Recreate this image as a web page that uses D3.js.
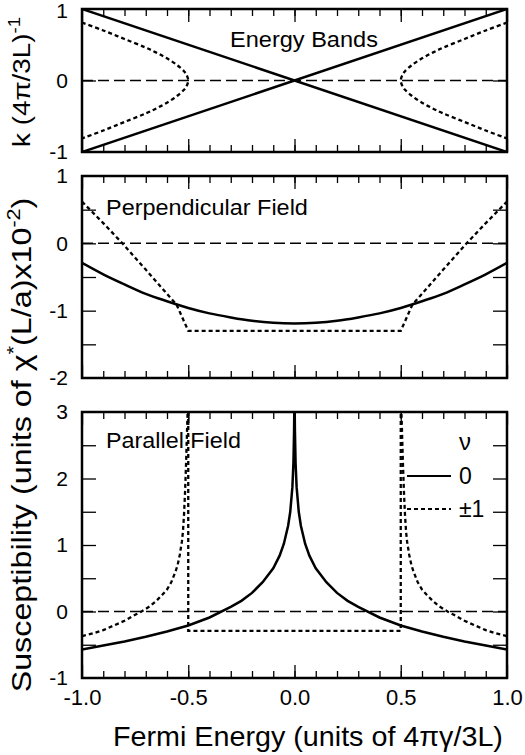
<!DOCTYPE html>
<meta charset="utf-8">
<title>Susceptibility vs Fermi energy</title>
<style>

body {
  margin: 0;
  background: #fff;
}

svg {
  font-family: "Liberation Sans", Arial, sans-serif;
}

.frame {
  fill: none;
  stroke: #000;
  stroke-width: 2.5px;
}

.tick line {
  stroke: #000;
  stroke-width: 1.3px;
}

.domain {
  display: none;
}

.zero {
  fill: none;
  stroke: #000;
  stroke-width: 1.5px;
  stroke-dasharray: 11, 5;
}

.solid {
  fill: none;
  stroke: #000;
  stroke-width: 2.5px;
}

.dot {
  fill: none;
  stroke: #000;
  stroke-width: 2.3px;
  stroke-dasharray: 4, 3;
}

</style>
<body>
<svg></svg>
<script src="https://d3js.org/d3.v7.min.js"></script>
<script>

// x axis (Fermi energy) tick labels, shared by all panels
var energyTicks = [-1.0, -0.5, 0.0, 0.5, 1.0];

// top panel: energy bands, k vs E
var bandsTicks = [-1, 0, 1];
var bandsSolidDown = [[-1, 1], [1, -1]];
var bandsSolidUp = [[-1, -1], [1, 1]];
var bandsDotLeft = [[-1, 0.81], [-0.9, 0.70], [-0.8, 0.58], [-0.7, 0.46], [-0.65, 0.39], [-0.6, 0.31],
                    [-0.55, 0.21], [-0.52, 0.13], [-0.51, 0.09], [-0.5, 0],
                    [-0.51, -0.09], [-0.52, -0.13], [-0.55, -0.21], [-0.6, -0.31], [-0.65, -0.39],
                    [-0.7, -0.46], [-0.8, -0.58], [-0.9, -0.70], [-1, -0.81]];
var bandsDotRight = [[1, 0.81], [0.9, 0.70], [0.8, 0.58], [0.7, 0.46], [0.65, 0.39], [0.6, 0.31],
                     [0.55, 0.21], [0.52, 0.13], [0.51, 0.09], [0.5, 0],
                     [0.51, -0.09], [0.52, -0.13], [0.55, -0.21], [0.6, -0.31], [0.65, -0.39],
                     [0.7, -0.46], [0.8, -0.58], [0.9, -0.70], [1, -0.81]];

// middle panel: perpendicular field
var perpTicks = [-2, -1, 0, 1];
var perpSolid = [[-1, -0.29], [-0.9, -0.46], [-0.8, -0.61], [-0.7, -0.75], [-0.6, -0.86], [-0.5, -0.96],
                 [-0.4, -1.04], [-0.3, -1.10], [-0.2, -1.15], [-0.1, -1.18], [0, -1.19],
                 [0.1, -1.18], [0.2, -1.15], [0.3, -1.10], [0.4, -1.04], [0.5, -0.96],
                 [0.6, -0.86], [0.7, -0.75], [0.8, -0.61], [0.9, -0.46], [1, -0.29]];
var perpDot = [[-1, 0.62], [-0.9, 0.30], [-0.81, 0], [-0.7, -0.39], [-0.6, -0.75], [-0.555, -0.91],
               [-0.5, -1.3], [0.5, -1.3],
               [0.555, -0.91], [0.6, -0.75], [0.7, -0.39], [0.81, 0], [0.9, 0.30], [1, 0.62]];

// bottom panel: parallel field
var parTicks = [-1, 0, 1, 2, 3];
var parSolid = [[-1, -0.57], [-0.9, -0.51], [-0.8, -0.45], [-0.7, -0.38], [-0.6, -0.30], [-0.5, -0.21],
                [-0.4, -0.09], [-0.3, 0.07], [-0.25, 0.16], [-0.2, 0.28], [-0.15, 0.44], [-0.1, 0.65],
                [-0.07, 0.84], [-0.05, 1.02], [-0.03, 1.29], [-0.02, 1.5], [-0.01, 1.87],
                [-0.005, 2.24], [-0.002, 2.72], [-0.001, 3.0],
                [0.001, 3.0], [0.002, 2.72], [0.005, 2.24], [0.01, 1.87], [0.02, 1.5], [0.03, 1.29],
                [0.05, 1.02], [0.07, 0.84], [0.1, 0.65], [0.15, 0.44], [0.2, 0.28], [0.25, 0.16],
                [0.3, 0.07], [0.4, -0.09], [0.5, -0.21], [0.6, -0.30], [0.7, -0.38], [0.8, -0.45],
                [0.9, -0.51], [1, -0.57]];
var parDotInner = [[-0.5, 3], [-0.5, -0.29], [0.5, -0.29], [0.5, 3]];
var parDotLeft = [[-1, -0.37], [-0.95, -0.33], [-0.9, -0.28], [-0.85, -0.21], [-0.8, -0.14], [-0.75, -0.05],
                  [-0.72, 0], [-0.68, 0.08], [-0.65, 0.16], [-0.62, 0.26], [-0.6, 0.33], [-0.58, 0.44],
                  [-0.56, 0.6], [-0.55, 0.7], [-0.54, 0.85], [-0.53, 1.05], [-0.525, 1.2], [-0.52, 1.45],
                  [-0.515, 1.8], [-0.51, 2.25], [-0.505, 2.8], [-0.503, 3.0]];
var parDotRight = [[1, -0.37], [0.95, -0.33], [0.9, -0.28], [0.85, -0.21], [0.8, -0.14], [0.75, -0.05],
                   [0.72, 0], [0.68, 0.08], [0.65, 0.16], [0.62, 0.26], [0.6, 0.33], [0.58, 0.44],
                   [0.56, 0.6], [0.55, 0.7], [0.54, 0.85], [0.53, 1.05], [0.525, 1.2], [0.52, 1.45],
                   [0.515, 1.8], [0.51, 2.25], [0.505, 2.8], [0.503, 3.0]];

// legend (nu values)
var legendTitle = "\u03bd";
var legendLabels = ["0", "\u00b11"];


var width = 525,
    height = 755;

var svg = d3.select("svg").attr("width", width).attr("height", height);

var x = d3.scaleLinear().domain([-1, 1]).range([82, 507]);

// stretch a text along its own direction so that it spans `len` pixels
function fit(t, len, cx, cy, rot) {
  var w = t.node().getComputedTextLength();
  t.attr("transform", "translate(" + cx + "," + cy + ")" + (rot ? " rotate(" + rot + ")" : "") +
         " scale(" + (len / w) + ",1)");
}

var panels = [
  {id: "bands", top: 9, bottom: 152, domain: [-1, 1], labels: bandsTicks, marks: [0],
   title: "Energy Bands", tx: 230, ty: 47, tw: 148,
   series: [[bandsSolidDown, "solid", d3.curveLinear], [bandsSolidUp, "solid", d3.curveLinear],
            [bandsDotLeft, "dot", d3.curveCatmullRom], [bandsDotRight, "dot", d3.curveCatmullRom]]},
  {id: "perp", top: 176, bottom: 378, domain: [-2, 1], labels: perpTicks, marks: [-1.5, -1, -0.5, 0, 0.5],
   title: "Perpendicular Field", tx: 106, ty: 215, tw: 202,
   series: [[perpSolid, "solid", d3.curveMonotoneX], [perpDot, "dot", d3.curveLinear]]},
  {id: "par", top: 412, bottom: 678, domain: [-1, 3], labels: parTicks, marks: d3.range(-0.5, 3, 0.5),
   title: "Parallel Field", tx: 106, ty: 448, tw: 135,
   series: [[parSolid, "solid", d3.curveLinear], [parDotInner, "dot", d3.curveLinear],
            [parDotLeft, "dot", d3.curveLinear], [parDotRight, "dot", d3.curveLinear]]}
];

var minorX = d3.range(-9, 10).map(i => i / 10);

panels.forEach(function(p) {
  var y = d3.scaleLinear().domain(p.domain).range([p.bottom, p.top]);
  var g = svg.append("g");
  var line = d3.line().x(d => x(d[0])).y(d => y(d[1]));

  g.append("clipPath").attr("id", "clip-" + p.id)
    .append("rect")
    .attr("x", x(-1)).attr("y", p.top)
    .attr("width", x(1) - x(-1)).attr("height", p.bottom - p.top);

  // zero line
  g.append("line").attr("class", "zero")
    .attr("x1", x(-1)).attr("x2", x(1))
    .attr("y1", y(0)).attr("y2", y(0));

  var curves = g.append("g").attr("clip-path", "url(#clip-" + p.id + ")");
  p.series.forEach(function(s) {
    curves.append("path")
      .datum(s[0])
      .attr("class", s[1])
      .attr("d", line.curve(s[2]));
  });

  // ticks, pointing inwards on all four sides
  g.append("g").attr("transform", "translate(0," + p.bottom + ")")
    .call(d3.axisBottom(x).tickValues(energyTicks).tickSize(-13).tickFormat(""));
  g.append("g").attr("transform", "translate(0," + p.bottom + ")")
    .call(d3.axisBottom(x).tickValues(minorX).tickSize(-7).tickFormat(""));
  g.append("g").attr("transform", "translate(0," + p.top + ")")
    .call(d3.axisTop(x).tickValues(energyTicks).tickSize(-13).tickFormat(""));
  g.append("g").attr("transform", "translate(0," + p.top + ")")
    .call(d3.axisTop(x).tickValues(minorX).tickSize(-7).tickFormat(""));
  g.append("g").attr("transform", "translate(" + x(-1) + ",0)")
    .call(d3.axisLeft(y).tickValues(p.marks).tickSize(-14).tickFormat(""));
  g.append("g").attr("transform", "translate(" + x(1) + ",0)")
    .call(d3.axisRight(y).tickValues(p.marks).tickSize(-14).tickFormat(""));

  // y tick labels
  g.append("g").attr("transform", "translate(" + x(-1) + ",0)")
    .call(d3.axisLeft(y).tickValues(p.labels).tickSize(0).tickPadding(14).tickFormat(d => String(d)))
    .call(a => a.selectAll("text").attr("font-size", 21).attr("fill", "#000").attr("font-family", null))
    .call(a => a.selectAll(".tick").filter(d => y(d) < 12).select("text").attr("dy", "0.42em"));

  g.append("rect").attr("class", "frame")
    .attr("x", x(-1)).attr("y", p.top)
    .attr("width", x(1) - x(-1)).attr("height", p.bottom - p.top);

  var title = g.append("text")
    .attr("font-size", 22)
    .text(p.title);
  fit(title, p.tw, p.tx, p.ty);
});

// x tick labels under the bottom panel
svg.append("g").attr("transform", "translate(0," + panels[2].bottom + ")")
  .call(d3.axisBottom(x).tickValues(energyTicks).tickSize(0).tickPadding(11).tickFormat(d => d.toFixed(1)))
  .call(a => a.selectAll("text").attr("font-size", 22).attr("fill", "#000").attr("font-family", null));

// legend
var legend = svg.append("g");
legend.append("text").attr("x", 465).attr("y", 450).attr("text-anchor", "middle")
  .attr("font-size", 24).text(legendTitle);
legendLabels.forEach(function(lab, i) {
  var ly = 476 + i * 33;
  legend.append("line").attr("class", i == 0 ? "solid" : "dot")
    .attr("x1", 407).attr("x2", 451).attr("y1", ly).attr("y2", ly)
    .style("stroke-width", "2px");
  legend.append("text").attr("x", 459).attr("y", ly + 8)
    .attr("font-size", 23).text(lab);
});

// axis titles
var kTitle = svg.append("text")
  .attr("text-anchor", "middle")
  .attr("font-size", 24)
  .call(t => {
    t.append("tspan").text("k (4\u03c0/3L)");
    t.append("tspan").attr("dy", -10).attr("font-size", 16).text("-1");
  });
fit(kTitle, 130, 30, 82, -90);

var chiTitle = svg.append("text")
  .attr("text-anchor", "middle")
  .attr("font-size", 27)
  .call(t => {
    t.append("tspan").text("Susceptibility (units of \u03c7");
    t.append("tspan").attr("dy", -11).attr("font-size", 18).text("*");
    t.append("tspan").attr("dy", 11).text("(L/a)x10");
    t.append("tspan").attr("dy", -11).attr("font-size", 18).text("-2");
    t.append("tspan").attr("dy", 11).text(")");
  });
fit(chiTitle, 495, 31, 445, -90);

var eTitle = svg.append("text")
  .attr("text-anchor", "middle")
  .attr("font-size", 27)
  .text("Fermi Energy (units of 4\u03c0\u03b3/3L)");
fit(eTitle, 390, 308, 746);

</script>
